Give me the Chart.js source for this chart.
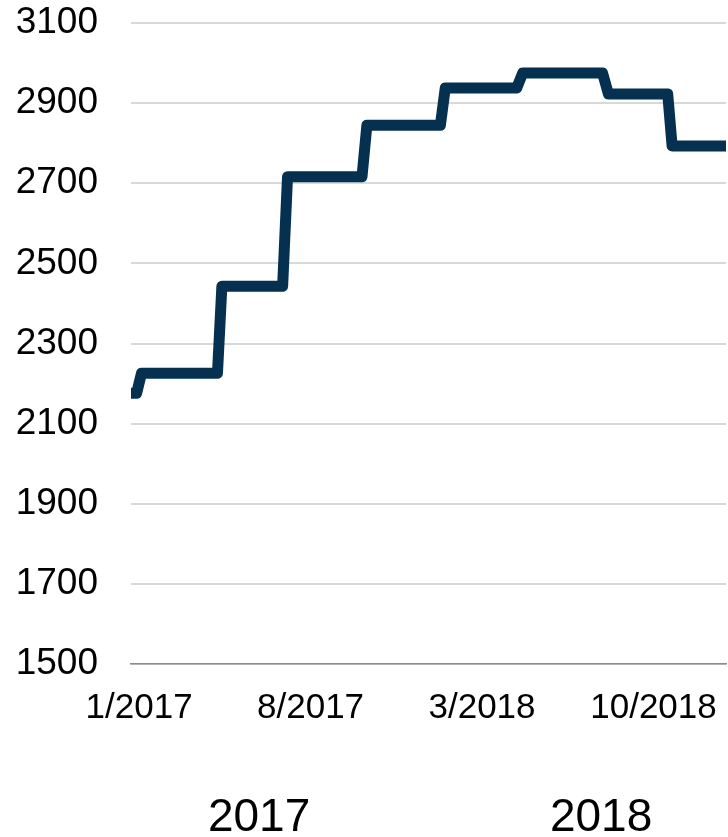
<!DOCTYPE html>
<html>
<head>
<meta charset="utf-8">
<script src="https://cdn.jsdelivr.net/npm/chart.js@4.4.1/dist/chart.umd.min.js"></script>
<style>
  html, body { margin: 0; padding: 0; background: #fff; overflow: hidden; }
  canvas { display: block; }
</style>
</head>
<body>
<canvas id="c" width="728" height="837"></canvas>
<script>
// months counted from 1/2017 (0 = Jan 2017), read at each corner of the steps
const months = [-0.33, -0.1, 0.1, 3.2, 3.38, 5.86, 6.06, 9.1, 9.3, 12.3, 12.5, 15.42, 15.66, 18.92, 19.16, 21.58, 21.76, 23.96];
const values = [2176, 2176, 2226, 2226, 2443, 2443, 2716, 2716, 2845, 2845, 2938, 2938, 2975, 2975, 2923, 2923, 2793, 2793];

const xMin = -0.33, xMax = 23.96;
const tickMonths = [0, 7, 14, 21];
const tickLabels = ['1/2017', '8/2017', '3/2018', '10/2018'];
const yearMonths = [4.9, 18.86];
const yearLabels = ['2017', '2018'];

const FONT = 'Liberation Sans, Arial, sans-serif';

// keep the plot box where the reference has it: no auto padding from labels
const noSidePad = s => { s.paddingLeft = 0; s.paddingRight = 0; };

new Chart(document.getElementById('c'), {
  type: 'line',
  data: {
    datasets: [{
      data: months.map((m, i) => ({ x: m, y: values[i] })),
      borderColor: '#06304f',
      borderWidth: 11,
      borderJoinStyle: 'round',
      borderCapStyle: 'butt',
      pointRadius: 0,
      tension: 0
    }]
  },
  options: {
    responsive: false, animation: false,
    layout: { padding: { top: 0, right: 2, left: 0, bottom: 0 } },
    plugins: { legend: { display: false }, tooltip: { enabled: false } },
    scales: {
      x: {
        type: 'linear', position: 'bottom', min: xMin, max: xMax,
        afterBuildTicks: s => { s.ticks = tickMonths.map(v => ({ value: v })); },
        afterFit: s => { noSidePad(s); s.height = 88; },
        grid: { display: false, drawTicks: false },
        border: { display: true, color: '#8c8c8c', width: 1.5 },
        ticks: { color: '#000', padding: 23, maxRotation: 0, autoSkip: false,
          font: { family: FONT, size: 35, lineHeight: 1.2 },
          callback: (v, i) => tickLabels[i] }
      },
      x2: {
        type: 'linear', position: 'bottom', min: xMin, max: xMax,
        afterBuildTicks: s => { s.ticks = yearMonths.map(v => ({ value: v })); },
        afterFit: s => { noSidePad(s); s.height = 85; },
        grid: { display: false, drawTicks: false },
        border: { display: false },
        ticks: { color: '#000', padding: 43, maxRotation: 0, autoSkip: false,
          font: { family: FONT, size: 46, lineHeight: 1 },
          callback: (v, i) => yearLabels[i] }
      },
      y: {
        min: 1500, max: 3100,
        afterFit: s => { s.width = 131; s.paddingTop = 23; s.paddingBottom = 0; },
        grid: { color: '#d9d9d9', lineWidth: 2, drawTicks: false },
        border: { display: false },
        ticks: { stepSize: 200, color: '#000', padding: 33,
          font: { family: FONT, size: 37, lineHeight: 1.2 },
          callback: v => String(v) }
      }
    }
  }
});
</script>
</body>
</html>
